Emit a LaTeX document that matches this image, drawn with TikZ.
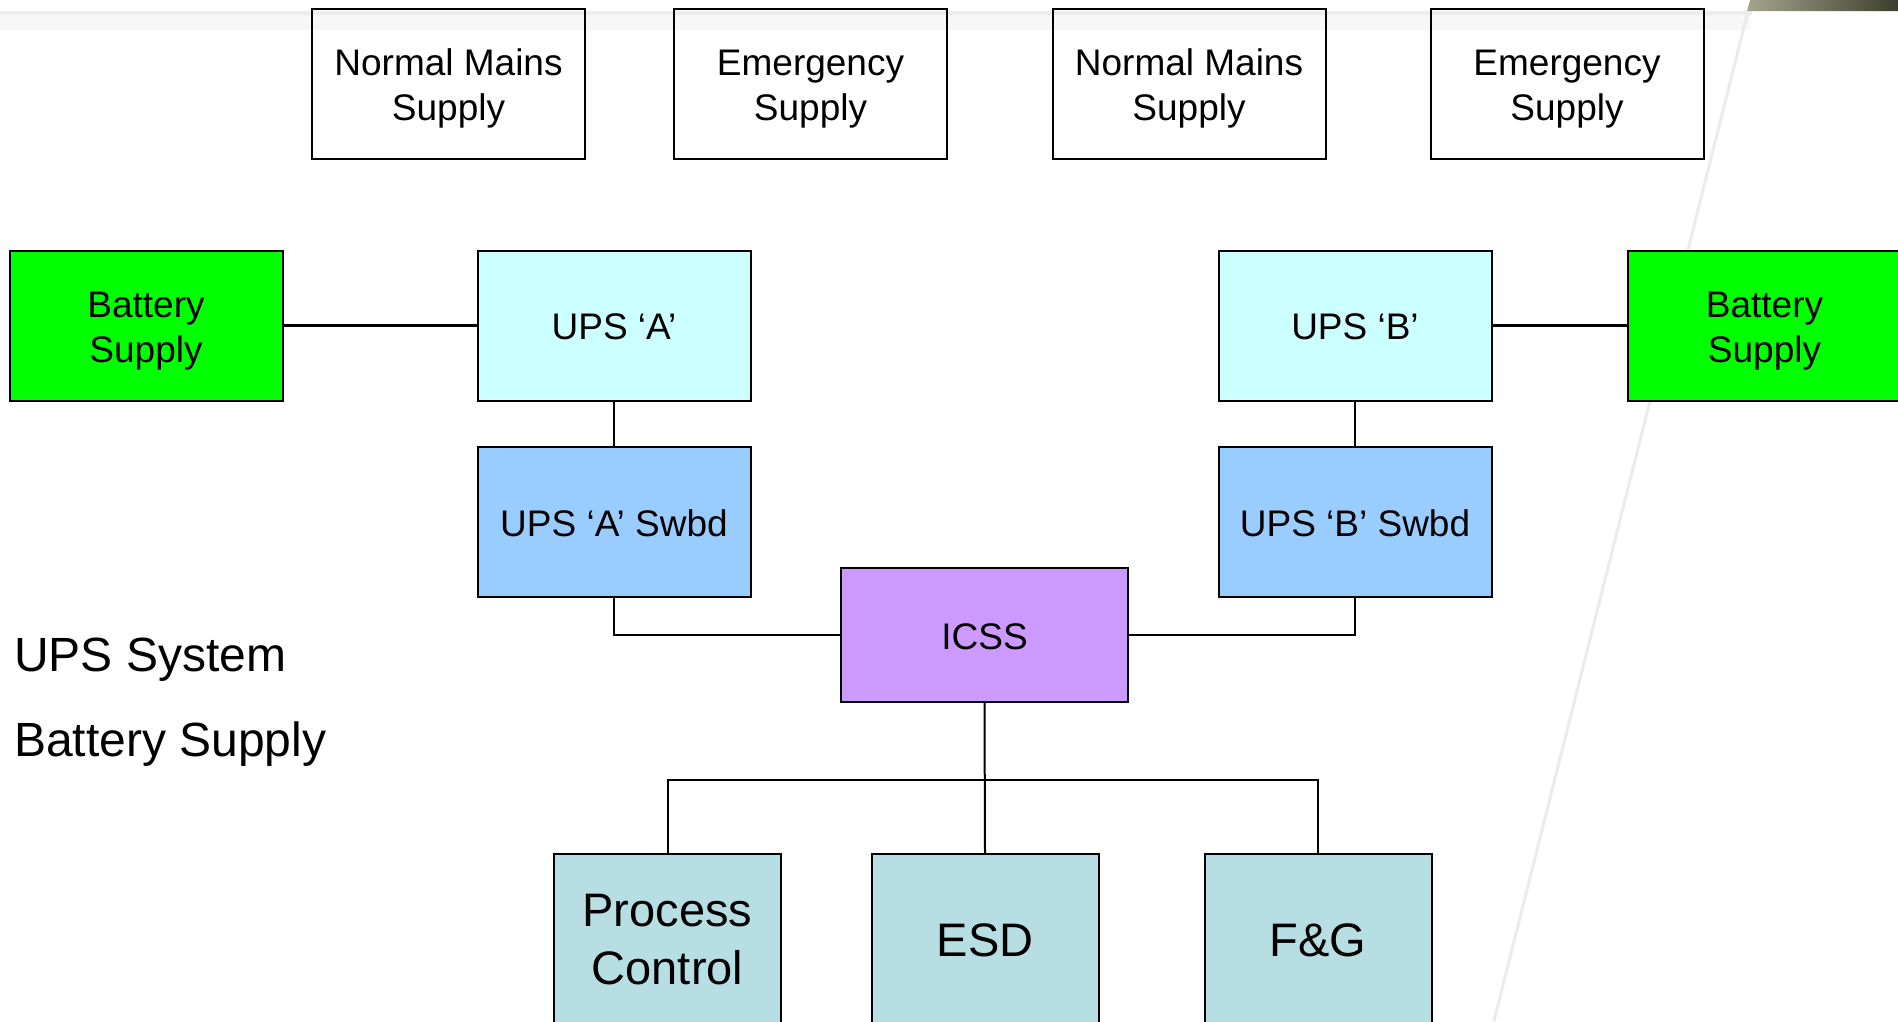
\documentclass[tikz,border=0pt]{standalone}
\usepackage{fontspec}
\setmainfont{Liberation Sans}
\definecolor{battgreen}{RGB}{0,255,0}
\definecolor{upscyan}{RGB}{204,255,255}
\definecolor{swbdblue}{RGB}{153,204,255}
\definecolor{icsspurple}{RGB}{204,153,255}
\definecolor{systeal}{RGB}{183,222,226}
\definecolor{stripL}{RGB}{165,165,140}
\definecolor{stripR}{RGB}{60,62,45}
\tikzset{
  box/.style={draw=black, line width=2pt, rectangle, minimum width=273pt, minimum height=150pt,
    align=center, inner sep=0pt, font=\fontsize{37}{45}\selectfont},
  twoline/.style={text height=82pt},
  oneline/.style={text height=29pt},
  bigbox/.style={box, minimum width=227pt, minimum height=172pt, fill=systeal,
    font=\fontsize{47}{58}\selectfont},
  wire/.style={line width=2pt},
  heavywire/.style={line width=3pt},
  sidelabel/.style={anchor=base west, inner sep=0pt, font=\fontsize{48}{58}\selectfont},
}
\begin{document}
\begin{tikzpicture}[x=1pt,y=-1pt]
\useasboundingbox (0,0) rectangle (1898,1021);
\fill[white] (0,0) rectangle (1898,1021);
% faint top band
\fill[black!7] (0,11) rectangle (1752,15);
\fill[black!3] (0,15) rectangle (1750,30);
% top-right dark strip
\shade[left color=stripL, right color=stripR] (1750,0) -- (1898,0) -- (1898,11) -- (1747,11) -- cycle;
% faint diagonal line
\draw[black!8, line width=3pt] (1748,11) -- (1494,1021);

% top supply boxes
\node[box, twoline] (nms1) at (448.5,83.5) {Normal Mains\\Supply};
\node[box, twoline] (es1) at (810.5,83.5) {Emergency\\Supply};
\node[box, twoline] (nms2) at (1189,83.5) {Normal Mains\\Supply};
\node[box, twoline] (es2) at (1567,83.5) {Emergency\\Supply};

% UPS row
\node[box, twoline, fill=battgreen] (battL) at (146,325.6) {Battery\\Supply};
\node[box, oneline, fill=upscyan] (upsA) at (614,325.6) {UPS ‘A’};
\node[box, oneline, fill=upscyan] (upsB) at (1355,325.6) {UPS ‘B’};
\node[box, twoline, fill=battgreen] (battR) at (1764.5,325.6) {Battery\\Supply};

% switchboards
\node[box, oneline, fill=swbdblue] (swA) at (614,521.7) {UPS ‘A’ Swbd};
\node[box, oneline, fill=swbdblue] (swB) at (1355,521.7) {UPS ‘B’ Swbd};

% ICSS
\node[box, oneline, fill=icsspurple, minimum width=287pt, minimum height=134pt] (icss) at (984.5,635) {ICSS};

% bottom systems
\node[bigbox] (pc) at (667.5,940) {Process\\Control};
\node[bigbox] (esd) at (985,940) {ESD};
\node[bigbox] (fg) at (1318,940) {F\&G};

% side labels
\node[sidelabel] (lbl1) at (14,671) {UPS System};
\node[sidelabel] (lbl2) at (14,756) {Battery Supply};

% connectors
\draw[heavywire] (battL) -- (upsA);
\draw[heavywire] (upsB) -- (battR);
\draw[wire] (upsA) -- (swA);
\draw[wire] (upsB) -- (swB);
\draw[wire] (swA.south) |- (icss.west);
\draw[wire] (icss.east) -| (swB.south);
\coordinate (bus) at (985,779.6);
\draw[wire] (icss.south) -- (esd.north);
\draw[wire] (pc.north) |- (bus) -| (fg.north);
\end{tikzpicture}
\end{document}
